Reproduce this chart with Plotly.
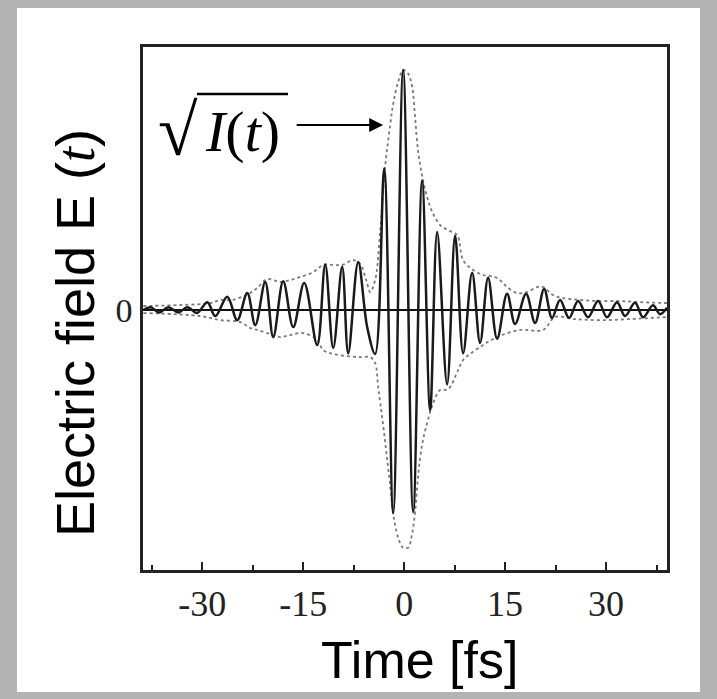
import plotly.graph_objects as go

# ---- data (time in fs, field in normalised units) ----
t_field = [-38.75, -37.71, -36.38, -35.04, -33.56, -32.22, -30.74, -29.25, -28.06,
           -26.28, -24.80, -23.31, -22.12, -20.64, -19.45, -17.97, -16.48, -14.85,
           -12.92, -11.73, -10.54, -9.21, -8.31, -6.83, -5.50, -4.31, -2.97, -1.63,
           -0.15, 1.34, 2.67, 3.86, 4.90, 6.38, 7.57, 8.76, 10.10, 11.28, 12.47,
           13.81, 15.29, 16.48, 18.11, 19.45, 20.79, 21.97, 23.16, 24.50, 25.84,
           27.32, 28.81, 30.14, 31.63, 32.81, 34.30, 35.49, 36.97, 38.01, 39.05]
e_field = [0.0, 0.012, -0.01, 0.012, -0.01, 0.012, -0.012, 0.033, -0.025,
           0.055, -0.042, 0.071, -0.063, 0.117, -0.113, 0.12, -0.071, 0.113,
           -0.146, 0.19, -0.158, 0.18, -0.18, 0.2, -0.07, -0.183, 0.59, -0.846,
           1.0, -0.842, 0.54, -0.417, 0.325, -0.31, 0.31, -0.18, 0.155, -0.137, 0.135,
           -0.12, 0.068, -0.058, 0.068, -0.054, 0.088, -0.033, 0.042, -0.033, 0.038,
           -0.03, 0.038, -0.03, 0.033, -0.025, 0.03, -0.03, 0.02, -0.017, 0.01]

t_env_up = [-38.75, -33.26, -28.8, -27.32, -25.54, -22.87, -21.83, -20.34, -18.41,
            -16.93, -15.44, -13.51, -12.03, -10.54, -9.21, -7.57, -6.53, -5.64,
            -5.05, -4.31, -3.56, -2.82, -2.08, -1.63, -0.89, -0.15, 0.59, 1.19,
            1.63, 2.08, 2.67, 3.42, 4.16, 5.35, 6.53, 7.87, 8.76, 10.25, 11.73,
            13.51, 14.55, 15.29, 16.78, 18.26, 19.75, 20.64, 22.12, 23.61, 26.13,
            29.1, 32.07, 35.04, 39.05]
env_up = [0.017, 0.021, 0.029, 0.042, 0.042, 0.071, 0.092, 0.129, 0.117,
          0.125, 0.138, 0.158, 0.188, 0.188, 0.188, 0.208, 0.192, 0.125,
          0.075, 0.125, 0.33, 0.60, 0.77, 0.86, 0.95, 1.0, 0.985, 0.93,
          0.80, 0.66, 0.56, 0.47, 0.41, 0.354, 0.333, 0.3125, 0.208, 0.167, 0.146,
          0.1375, 0.117, 0.096, 0.071, 0.075, 0.096, 0.096, 0.0625, 0.05, 0.042,
          0.0375, 0.0375, 0.033, 0.029]

t_env_lo = [-38.75, -30.29, -27.32, -24.35, -22.87, -21.83, -20.34, -18.41, -16.93,
            -15.0, -12.92, -12.03, -10.54, -8.46, -6.53, -5.05, -4.31, -3.86,
            -3.12, -2.2, -1.45, -0.75, -0.15, 0.59, 1.19, 1.63, 2.08, 2.67, 3.42,
            4.16, 5.35, 6.53, 8.02, 8.76, 11.28, 13.81, 17.22, 20.64, 22.42, 25.39,
            29.1, 33.56, 39.05]
env_lo = [-0.0125, -0.025, -0.042, -0.05, -0.075, -0.083, -0.096, -0.1125, -0.104,
          -0.096, -0.125, -0.167, -0.183, -0.192, -0.196, -0.196, -0.221, -0.321,
          -0.48, -0.70, -0.88, -0.96, -0.99, -0.99, -0.93, -0.84, -0.69, -0.56, -0.47,
          -0.40, -0.333, -0.33, -0.25, -0.208, -0.154, -0.1125, -0.083, -0.083, -0.029,
          -0.0375, -0.042, -0.0375, -0.029]

x_ticks = [-30, -15, 0, 15, 30]
x_minor_ticks = [-37.5, -22.5, -7.5, 7.5, 22.5, 37.5]
y_ticks = [0]

fig = go.Figure()
env_style = dict(color="#7a7a7a", width=1.8, dash="dot", shape="spline", smoothing=1.0)
fig.add_trace(go.Scatter(x=t_env_up, y=env_up, mode="lines", line=env_style,
                         showlegend=False, hoverinfo="skip"))
fig.add_trace(go.Scatter(x=t_env_lo, y=env_lo, mode="lines", line=env_style,
                         showlegend=False, hoverinfo="skip"))
fig.add_trace(go.Scatter(x=t_field, y=e_field, mode="lines",
                         line=dict(color="#1a1a1a", width=2.5, shape="spline", smoothing=1.0),
                         showlegend=False, hoverinfo="skip"))

fig.update_layout(
    width=717, height=699,
    margin=dict(l=143, r=50, t=47, b=129),
    paper_bgcolor="#b3b3b3",
    plot_bgcolor="white",
    font=dict(family="Liberation Sans", color="black"),
    xaxis=dict(range=[-38.8, 39.05], tickvals=x_ticks, ticktext=[str(v) for v in x_ticks],
               ticks="inside", ticklen=8, tickwidth=2, tickcolor="#222",
               minor=dict(tickvals=x_minor_ticks, ticks="inside", ticklen=5, tickwidth=2,
                          tickcolor="#222"),
               showline=True, linecolor="#222", linewidth=2.5, mirror=True,
               showgrid=False, zeroline=False,
               tickfont=dict(family="Liberation Serif", size=36, color="#222"),
               ticklabelstandoff=0),
    yaxis=dict(range=[-1.083, 1.096], tickvals=y_ticks, ticktext=["0"], ticks="",
               showline=True, linecolor="#222", linewidth=2.5, mirror=True,
               showgrid=False, zeroline=True, zerolinecolor="#111", zerolinewidth=2,
               tickfont=dict(family="Liberation Serif", size=34, color="#222"),
               ticklabelstandoff=1),
    shapes=[
        dict(type="rect", xref="paper", yref="paper", x0=-0.2405, x1=1.063,
             y0=-0.2333, y1=1.0746, fillcolor="white", line=dict(width=0), layer="below"),
        dict(type="line", xref="paper", yref="paper", x0=0.103, x1=0.2767,
             y0=0.910, y1=0.910, line=dict(color="black", width=2.5)),
    ],
    annotations=[
        dict(text='Electric field E (<span style="font-family:Liberation Serif"><i>t</i></span>)',
             textangle=-90, x=-0.1298, y=0.453, xref="paper", yref="paper",
             showarrow=False, font=dict(size=54, family="Liberation Sans", color="black"),
             xanchor="center", yanchor="middle"),
        dict(text="Time [fs]", x=0.5286, y=-0.172, xref="paper", yref="paper",
             showarrow=False, font=dict(size=52, family="Liberation Sans", color="black"),
             xanchor="center", yanchor="middle"),
        dict(text="√", x=0.1088, y=0.839, xref="paper", yref="paper", showarrow=False,
             font=dict(size=72, family="Liberation Serif", color="black"),
             xanchor="right", yanchor="middle"),
        dict(text="<i>I</i>(<i>t</i>)", x=0.1145, y=0.839, xref="paper", yref="paper",
             showarrow=False, font=dict(size=58, family="Liberation Serif", color="black"),
             xanchor="left", yanchor="middle"),
        dict(text="", x=-3.12, y=0.771, xref="x", yref="y", showarrow=True,
             ax=-88, ay=0, arrowhead=2, arrowsize=1.4, arrowwidth=2, arrowcolor="black"),
    ],
)

fig.write_html("out.html", config={"displayModeBar": False},
               post_script="document.body.style.margin='0px';document.body.style.overflow='hidden';")
